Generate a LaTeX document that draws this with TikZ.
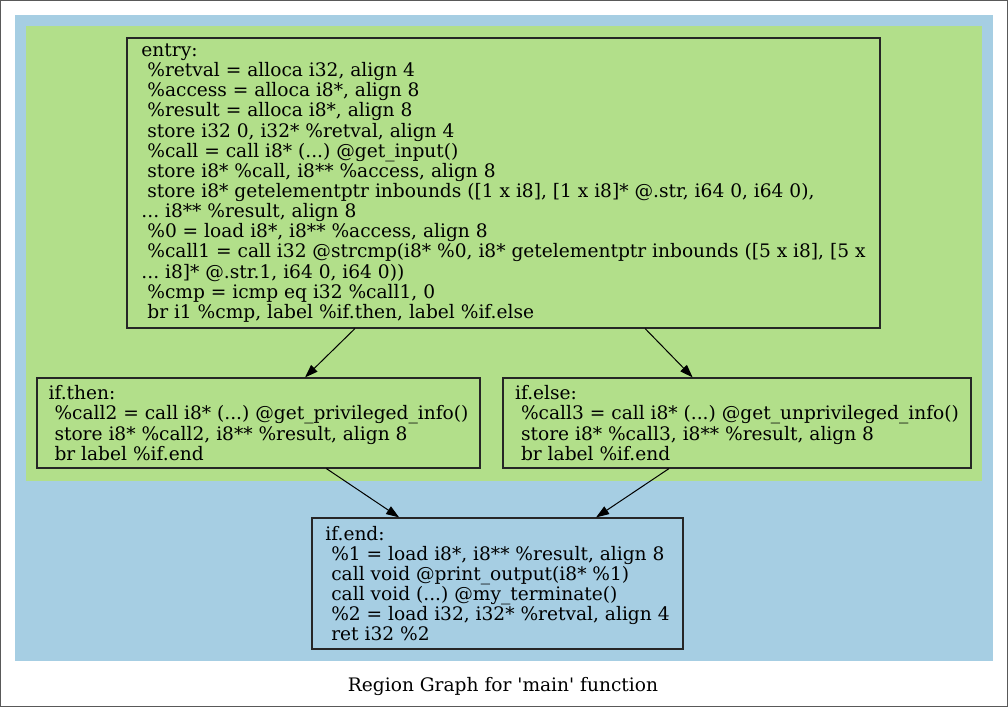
\documentclass[tikz,border=0pt]{standalone}
\usepackage{fontspec}
\usetikzlibrary{arrows.meta}
\newfontfamily\graphfont{DejaVu Serif}
\definecolor{regionblue}{HTML}{A6CEE3}
\definecolor{regiongreen}{HTML}{B2DF8A}
\newcommand{\nl}{\\\hspace*{\fontdimen2\font}}

\begin{document}
\begin{tikzpicture}[x=1pt, y=-1pt, >={Triangle[length=13pt,width=9pt]},
	block/.style={draw=black!85, line width=1.2pt, rectangle, inner xsep=11pt, inner ysep=0pt, align=left,
		font=\graphfont\fontsize{18.6}{20.15}\selectfont\frenchspacing},
	flow/.style={->, line width=1pt}]
	\useasboundingbox (0,0) rectangle (1008,707);
	% Frame and regions
	\draw [black!65, line width=1pt] (0.5,0.5) rectangle (1007,706.3);
	\fill [regionblue]  (15,15) rectangle (992.5,660.5);
	\fill [regiongreen] (26,26) rectangle (982,481);

	% Nodes {entry, if.then, if.else, if.end}
	\node [block, fill=regiongreen, minimum width=753, minimum height=290] (entry) at (503.5,183)
		{entry:\nl \%retval = alloca i32, align 4\nl \%access = alloca i8*, align 8\nl \%result = alloca i8*, align 8%
		\nl store i32 0, i32* \%retval, align 4\nl \%call = call i8* (...) @get\_input()%
		\nl store i8* \%call, i8** \%access, align 8%
		\nl store i8* getelementptr inbounds ([1 x i8], [1 x i8]* @.str, i64 0, i64 0),%
		\\... i8** \%result, align 8\nl \%0 = load i8*, i8** \%access, align 8%
		\nl \%call1 = call i32 @strcmp(i8* \%0, i8* getelementptr inbounds ([5 x i8], [5 x%
		\\... i8]* @.str.1, i64 0, i64 0))\nl \%cmp = icmp eq i32 \%call1, 0%
		\nl br i1 \%cmp, label \%if.then, label \%if.else};
	\node [block, fill=regiongreen, minimum width=443, minimum height=90] (ifthen) at (258.5,423)
		{if.then:\nl \%call2 = call i8* (...) @get\_privileged\_info()\nl store i8* \%call2, i8** \%result, align 8%
		\nl br label \%if.end};
	\node [block, fill=regiongreen, minimum width=468, minimum height=90] (ifelse) at (737,423)
		{if.else:\nl \%call3 = call i8* (...) @get\_unprivileged\_info()\nl store i8* \%call3, i8** \%result, align 8%
		\nl br label \%if.end};
	\node [block, fill=regionblue, minimum width=371, minimum height=131] (ifend) at (497.5,583.5)
		{if.end:\nl \%1 = load i8*, i8** \%result, align 8\nl call void @print\_output(i8* \%1)%
		\nl call void (...) @my\_terminate()\nl \%2 = load i32, i32* \%retval, align 4\nl ret i32 \%2};
	\node [font=\graphfont\fontsize{18.6}{20}\selectfont] (caption) at (503,686) {Region Graph for 'main' function};

	% Paths
	\path [flow] (entry)  edge (ifthen);
	\path [flow] (entry)  edge (ifelse);
	\path [flow] (ifthen) edge (ifend);
	\path [flow] (ifelse) edge (ifend);
\end{tikzpicture}
\end{document}
